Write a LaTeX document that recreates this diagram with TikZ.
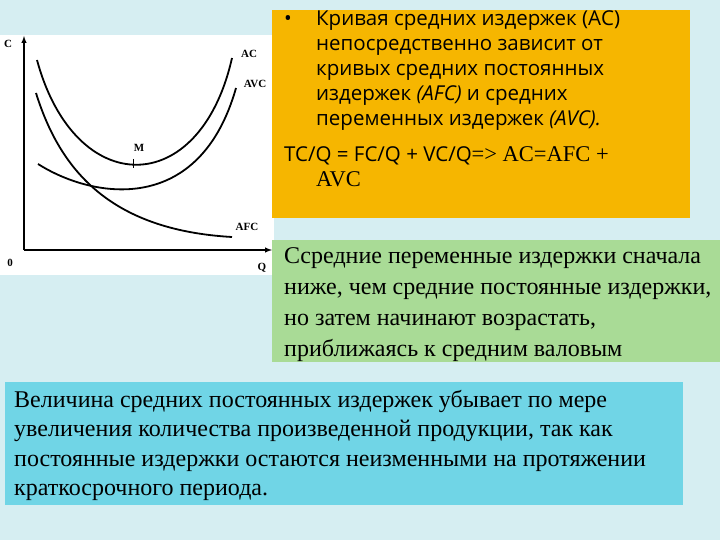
\documentclass[tikz,border=0pt]{standalone}
\usepackage{fontspec}
\setmainfont{Liberation Serif}
\newfontfamily\osans{Open Sans}
\definecolor{bgc}{HTML}{D6EEF2}
\definecolor{orb}{HTML}{F6B600}
\definecolor{grb}{HTML}{A9DB96}
\definecolor{cyb}{HTML}{70D5E6}
\begin{document}
\begin{tikzpicture}[x=1pt,y=-1pt,
  curve/.style={line width=1.8pt},
  lbl/.style={font=\bfseries\fontsize{11}{12}\selectfont,inner sep=0pt},
  para/.style={anchor=north west,align=left,inner sep=0pt}]
\fill[bgc] (0,0) rectangle (720,540);
\useasboundingbox (0,0) rectangle (720,540);
% graph
\fill[white] (0,35) rectangle (274,275);
\draw[line width=1.4pt,-latex] (24,250) -- (24,36);
\draw[line width=1.4pt,-latex] (24,250) -- (272,250);
\node[lbl] (c) at (8,44) {C};
\node[lbl] (o) at (10,263) {0};
\node[lbl] (q) at (262,268) {Q};
\draw[curve] (37,60) .. controls (75,200) and (200,200) .. (232,58);
\draw[line width=1pt] (133,159) -- (133,168);
\node[lbl] (m) at (139,148) {M};
\draw[curve] (38,164) .. controls (95,200) and (200,215) .. (236,88);
\draw[curve] (36,93) .. controls (60,170) and (110,230) .. (232,237);
\node[lbl] (ac) at (249,54) {AC};
\node[lbl] (avc) at (255,84) {AVC};
\node[lbl] (afc) at (247,227) {AFC};
% orange box
\fill[orb] (272,10) rectangle (690,218);
\node[para,font=\osans\fontsize{20.5}{33}\selectfont] (t1) at (284,10) {%
\makebox[32pt][l]{\textbullet}Кривая средних издержек (АС)\\[-8pt]
\hspace*{32pt}непосредственно зависит от\\[-8pt]
\hspace*{32pt}кривых средних постоянных\\[-8pt]
\hspace*{32pt}издержек \textit{(AFC)} и средних\\[-8pt]
\hspace*{32pt}переменных издержек \textit{(AVC).}\\[3pt]
TC/Q = FC/Q + VC/Q{\rmfamily\fontsize{22.5}{24}\selectfont =>~AC=AFC~+}\\[-8pt]
\hspace*{32pt}{\rmfamily\fontsize{22.5}{24}\selectfont AVC}};
% green box
\fill[grb] (272,240) rectangle (720,362);
\node[para,font=\fontsize{24}{31}\selectfont] (t2) at (284,247) {%
Ссредние переменные издержки сначала\\
ниже, чем средние постоянные издержки,\\
но затем начинают возрастать,\\
приближаясь к средним валовым};
% cyan box
\fill[cyb] (5,382) rectangle (683,505);
\node[para,font=\fontsize{24}{29.5}\selectfont] (t3) at (14,390) {%
Величина средних постоянных издержек убывает по мере\\
увеличения количества произведенной продукции, так как\\
постоянные издержки остаются неизменными на протяжении\\
краткосрочного периода.};
\end{tikzpicture}
\end{document}
